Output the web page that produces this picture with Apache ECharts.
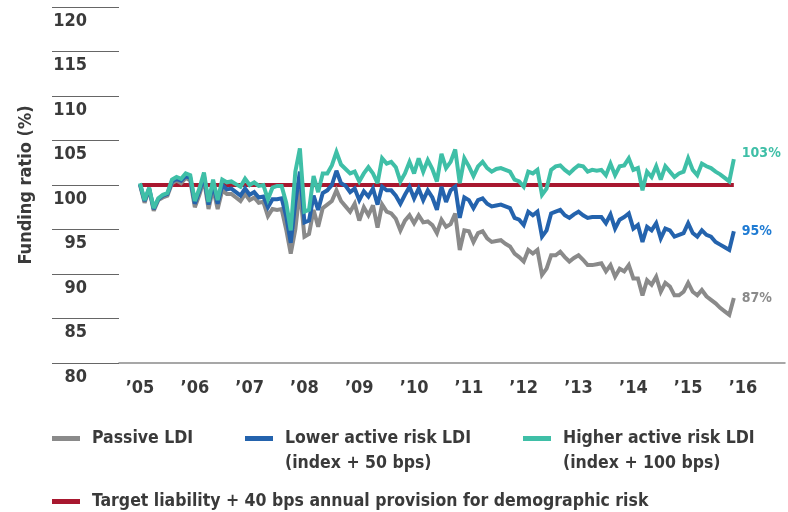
<!DOCTYPE html>
<html>
<head>
<meta charset="utf-8">
<script src="https://cdn.jsdelivr.net/npm/echarts@6.0.0/dist/echarts.min.js"></script>
<style>
  html, body { margin: 0; padding: 0; background: #fff; }
  #chart { width: 788px; height: 512px; }
</style>
</head>
<body>
<div id="chart"></div>
<script>
// year tick labels, one per January (month index 0, 12, 24 ...)
var yearLabels = ['’05', '’06', '’07', '’08', '’09', '’10', '’11', '’12', '’13', '’14', '’15', '’16']

// monthly funding ratio (%), Jan 2005 .. Nov 2015
var passive = [
  100.0, 98.0, 99.5, 97.1, 98.3, 98.6, 98.8, 100.2, 100.5, 100.2,
  100.8, 100.5, 97.5, 98.9, 100.6, 97.3, 99.6, 97.3, 99.4, 99.0,
  99.0, 98.6, 98.2, 99.0, 98.3, 98.6, 98.0, 98.1, 96.5, 97.3,
  97.2, 97.3, 95.0, 92.3, 95.0, 99.5, 94.2, 94.5, 97.2, 95.3,
  97.4, 97.8, 98.2, 99.4, 98.2, 97.6, 97.0, 97.9, 96.0, 97.5,
  96.6, 97.7, 95.2, 97.8, 97.0, 96.8, 96.2, 94.9, 96.0, 96.6,
  95.7, 96.6, 95.8, 95.9, 95.5, 94.6, 96.1, 95.3, 95.6, 96.8,
  92.7, 94.9, 94.8, 93.6, 94.6, 94.8, 94.0, 93.6, 93.7, 93.8,
  93.4, 93.1, 92.3, 91.9, 91.4, 92.7, 92.3, 92.7, 89.9, 90.6,
  92.1, 92.1, 92.5, 91.9, 91.4, 91.8, 92.1, 91.6, 91.0, 91.0,
  91.1, 91.2, 90.3, 91.0, 89.7, 90.6, 90.3, 91.0, 89.5, 89.5,
  87.6, 89.3, 88.8, 89.7, 88.0, 89.0, 88.6, 87.6, 87.6, 88.0,
  89.0, 88.0, 87.6, 88.2, 87.5, 87.1, 86.7, 86.2, 85.8, 85.4,
  87.3
]
var lowerActive = [
  100.1, 98.2, 99.6, 97.3, 98.4, 98.8, 99.0, 100.4, 100.7, 100.5,
  101.0, 100.8, 97.9, 99.3, 101.0, 97.8, 100.1, 97.9, 100.0, 99.5,
  99.6, 99.2, 98.8, 99.6, 98.9, 99.2, 98.6, 98.7, 97.5, 98.4,
  98.4, 98.5, 96.5, 93.5, 98.0, 101.5, 95.8, 96.0, 98.8, 97.2,
  99.1, 99.4, 100.0, 101.6, 100.2, 99.9, 99.2, 99.6, 98.3, 99.3,
  98.7, 99.6, 97.8, 99.8, 99.4, 99.4, 98.8, 97.9, 98.9, 99.8,
  98.5, 99.6, 98.3, 99.4, 98.6, 97.2, 99.8, 98.1, 99.4, 99.8,
  96.3, 98.6, 98.3, 97.4, 98.3, 98.5, 97.9, 97.6, 97.7, 97.8,
  97.6, 97.4, 96.3, 96.1, 95.5, 97.0, 96.6, 97.0, 94.2, 94.9,
  96.8, 97.0, 97.2, 96.6, 96.3, 96.7, 97.0, 96.6, 96.3, 96.4,
  96.4, 96.4, 95.7, 96.7, 95.1, 96.1, 96.4, 96.8, 95.1, 95.5,
  93.6, 95.3, 94.9, 95.7, 94.0, 95.1, 94.9, 94.2, 94.4, 94.6,
  95.7, 94.6, 94.2, 94.9, 94.4, 94.2, 93.6, 93.3, 93.0, 92.7,
  94.8
]
var higherActive = [
  100.2, 98.3, 99.7, 97.4, 98.5, 98.9, 99.1, 100.6, 100.9, 100.7,
  101.3, 101.1, 98.2, 99.6, 101.4, 98.1, 100.6, 98.3, 100.6, 100.3,
  100.4, 100.1, 99.8, 100.7, 100.0, 100.3, 99.9, 100.0, 98.4, 99.7,
  99.9, 99.9, 98.0, 94.9, 101.5, 104.1, 97.0, 97.2, 101.0, 99.2,
  101.3, 101.3, 102.2, 103.7, 102.3, 101.8, 101.3, 101.5, 100.4, 101.3,
  102.0, 101.3, 100.2, 103.0, 102.4, 102.6, 102.0, 100.4, 101.3, 102.6,
  101.3, 103.0, 101.5, 102.8, 101.8, 100.4, 103.5, 101.9, 102.6, 104.0,
  100.2, 103.0, 102.1, 101.0, 102.1, 102.6, 101.9, 101.5, 101.8, 101.9,
  101.7, 101.5, 100.6, 100.4, 99.8, 101.5, 101.3, 101.7, 98.9, 99.6,
  101.7, 102.1, 102.2, 101.7, 101.3, 101.8, 102.2, 102.1, 101.5, 101.7,
  101.6, 101.7, 101.1, 102.4, 101.1, 102.1, 102.2, 103.0, 101.7, 101.9,
  99.4, 101.5, 100.9, 102.1, 100.6, 102.1, 101.5, 100.9, 101.3, 101.5,
  103.0, 101.7, 101.1, 102.4, 102.1, 101.9, 101.5, 101.2, 100.8, 100.4,
  102.9
]
// target liability: flat at 100 from first to last month
var target = [100, 100]

var FONT = '"DejaVu Sans Condensed", "Liberation Sans Narrow", sans-serif'
var TEXT = '#3a3a3a'

function pairs(arr) {
  return arr.map(function (v, i) { return [i, v] })
}
var lastMonth = passive.length - 1

var chart = echarts.init(document.getElementById('chart'), null, { renderer: 'canvas' })

function lineSeries(name, data, color, labelColor, labelOffset) {
  return {
    name: name,
    type: 'line',
    data: pairs(data),
    symbol: 'none',
    lineStyle: { color: color, width: 4, join: 'miter', miterLimit: 3 },
    itemStyle: { color: color },
    emphasis: { disabled: true },
    endLabel: {
      show: true,
      formatter: function (p) { return Math.round(p.value[1]) + '%' },
      color: labelColor,
      fontFamily: FONT,
      fontWeight: 'bold',
      fontSize: 14,
      distance: 8,
      offset: labelOffset
    }
  }
}

// two-line names get a blank first line so the swatch sits beside line one
function legendAt(name, left, top, twoLines) {
  return {
    data: [name],
    left: left,
    top: top,
    padding: 0,
    icon: 'rect',
    itemWidth: 28,
    itemHeight: 5,
    selectedMode: false,
    formatter: function (n) { return twoLines ? '\n' + n : n },
    textStyle: {
      color: TEXT,
      fontFamily: FONT,
      fontWeight: 'bold',
      fontSize: 17.5,
      lineHeight: 25,
      padding: [0, 0, 0, 7]
    }
  }
}

var option = {
  animation: false,
  grid: { left: 119, right: 3, top: 7, bottom: 149 },
  xAxis: {
    type: 'value',
    min: -4.6,
    max: 141.2,
    splitLine: { show: false },
    axisTick: { show: false },
    axisLine: { lineStyle: { color: '#8a8a8a', width: 1.5 } },
    axisLabel: {
      customValues: yearLabels.map(function (_, i) { return i * 12 }),
      formatter: function (v) { return yearLabels[Math.round(v / 12)] },
      color: TEXT,
      fontFamily: FONT,
      fontWeight: 'bold',
      fontSize: 18,
      margin: 16
    }
  },
  yAxis: {
    type: 'value',
    min: 80,
    max: 120,
    interval: 5,
    name: 'Funding ratio (%)',
    nameLocation: 'middle',
    nameRotate: 90,
    nameGap: 84,
    nameTextStyle: {
      color: TEXT,
      fontFamily: FONT,
      fontWeight: 'bold',
      fontSize: 18
    },
    splitLine: { show: false },
    axisLine: { show: false, onZero: false },
    axisTick: { show: true, length: 67, lineStyle: { color: '#666', width: 1 } },
    axisLabel: {
      color: TEXT,
      fontFamily: FONT,
      fontWeight: 'bold',
      fontSize: 18,
      margin: 32,
      verticalAlign: 'top',
      lineHeight: 18,
      padding: [5, 0, 0, 0]
    }
  },
  legend: [
    legendAt('Passive LDI', 52, 426, false),
    legendAt('Lower active risk LDI\n(index + 50 bps)', 245, 401, true),
    legendAt('Higher active risk LDI\n(index + 100 bps)', 523, 401, true),
    legendAt('Target liability + 40 bps annual provision for demographic risk', 52, 489, false)
  ],
  series: [
    {
      name: 'Target liability + 40 bps annual provision for demographic risk',
      type: 'line',
      data: [[0, target[0]], [lastMonth, target[1]]],
      symbol: 'none',
      lineStyle: { color: '#a8182f', width: 4 },
      itemStyle: { color: '#a8182f' },
      emphasis: { disabled: true }
    },
    lineSeries('Passive LDI', passive, '#8a8a8a', '#8a8a8a', [0, 0]),
    lineSeries('Lower active risk LDI\n(index + 50 bps)', lowerActive, '#2463ad', '#1f7bd3', [0, 0]),
    lineSeries('Higher active risk LDI\n(index + 100 bps)', higherActive, '#3fbfa7', '#3fbfa7', [0, -6])
  ]
}

chart.setOption(option)
</script>
</body>
</html>
